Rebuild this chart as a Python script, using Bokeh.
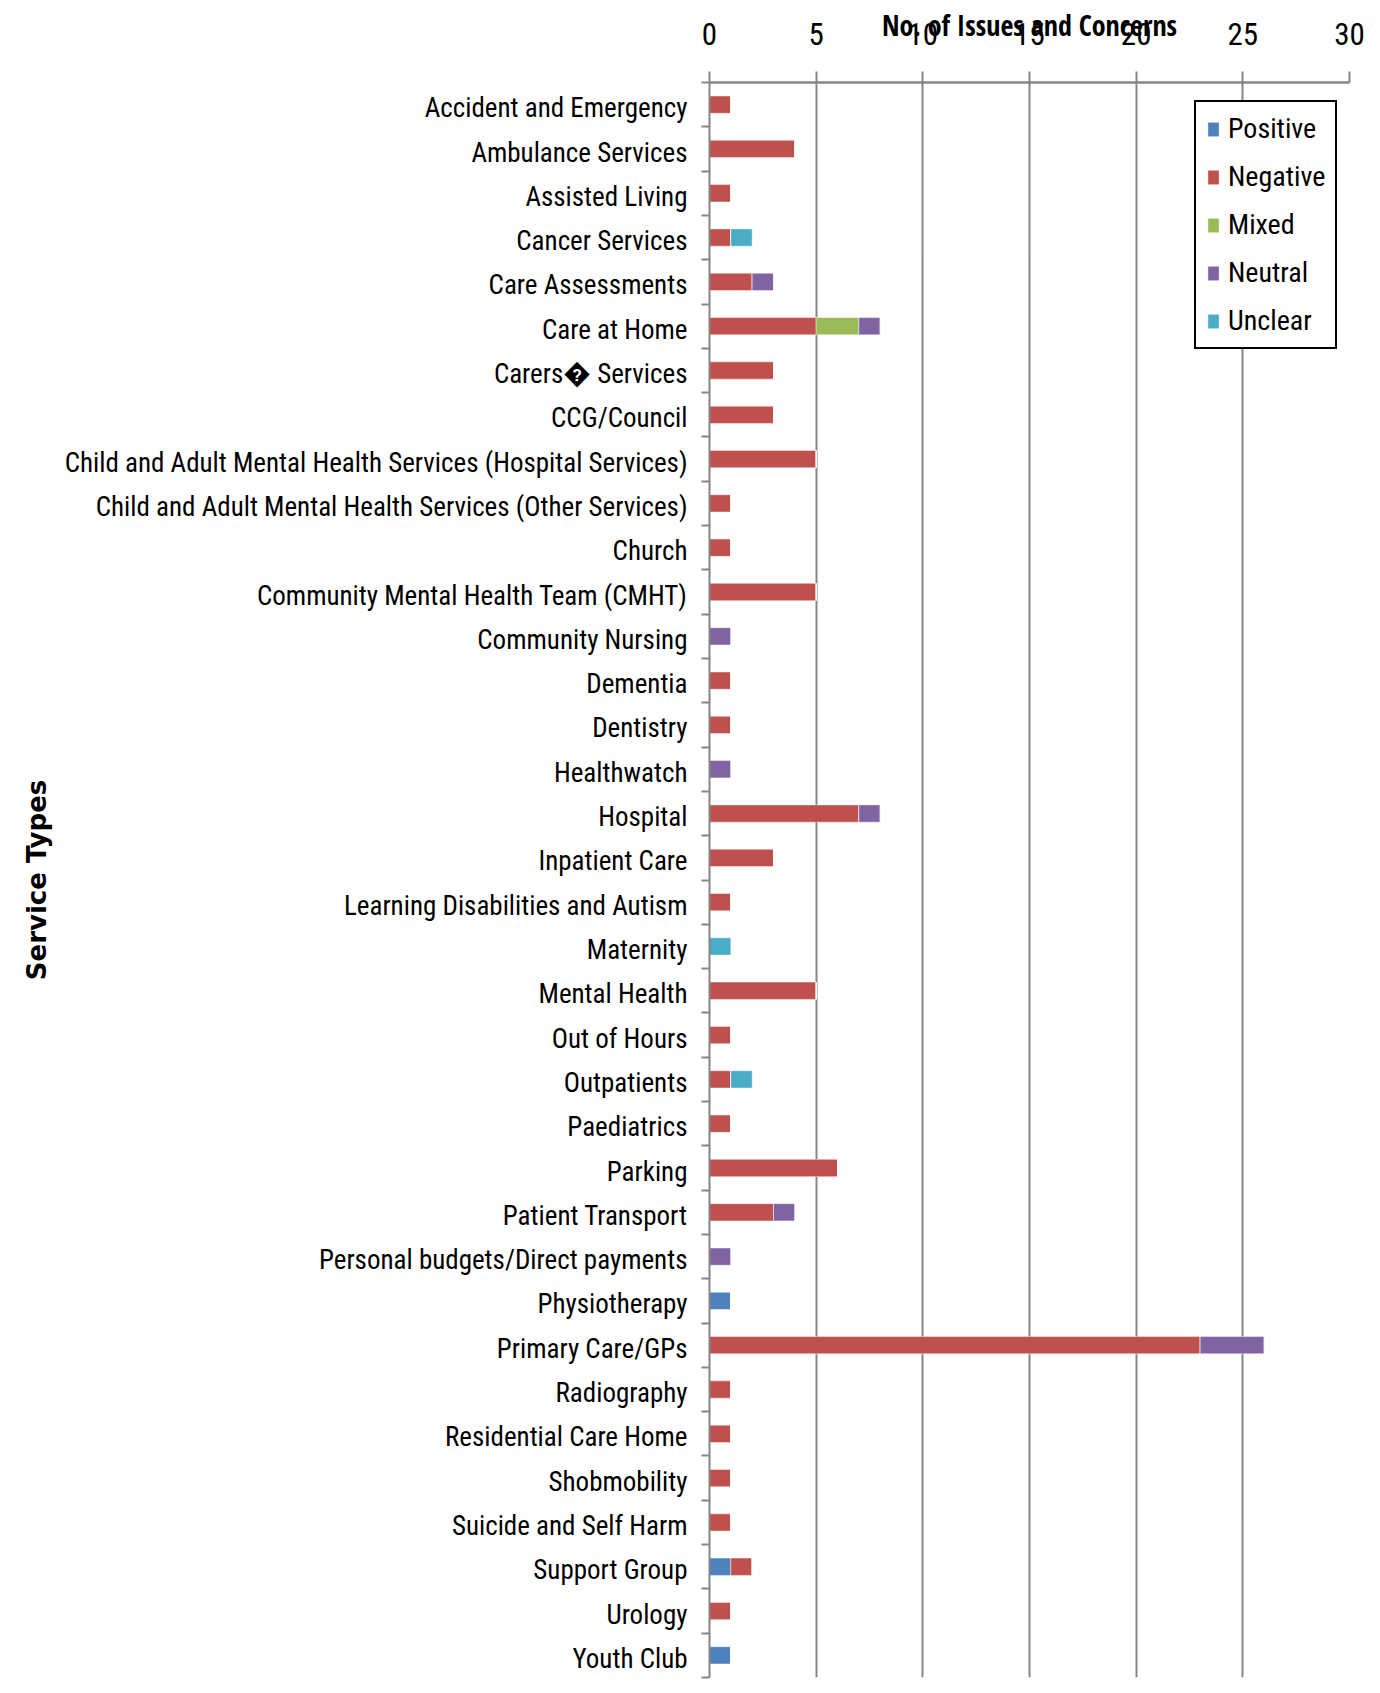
from bokeh.plotting import figure
from bokeh.models import ColumnDataSource, FixedTicker, Range1d
from bokeh.embed import file_html
from bokeh.resources import INLINE

# Service types, listed top to bottom
services = [
    "Accident and Emergency",
    "Ambulance Services",
    "Assisted Living",
    "Cancer Services",
    "Care Assessments",
    "Care at Home",
    "Carers\ufffd Services",
    "CCG/Council",
    "Child and Adult Mental Health Services (Hospital Services)",
    "Child and Adult Mental Health Services (Other Services)",
    "Church",
    "Community Mental Health Team (CMHT)",
    "Community Nursing",
    "Dementia",
    "Dentistry",
    "Healthwatch",
    "Hospital",
    "Inpatient Care",
    "Learning Disabilities and Autism",
    "Maternity",
    "Mental Health",
    "Out of Hours",
    "Outpatients",
    "Paediatrics",
    "Parking",
    "Patient Transport",
    "Personal budgets/Direct payments",
    "Physiotherapy",
    "Primary Care/GPs",
    "Radiography",
    "Residential Care Home",
    "Shobmobility",
    "Suicide and Self Harm",
    "Support Group",
    "Urology",
    "Youth Club",
]

# Number of issues and concerns per sentiment
positive = [0, 0, 0, 0, 0, 0, 0, 0, 0, 0, 0, 0, 0, 0, 0, 0, 0, 0,
            0, 0, 0, 0, 0, 0, 0, 0, 0, 1, 0, 0, 0, 0, 0, 1, 0, 1]
negative = [1, 4, 1, 1, 2, 5, 3, 3, 5, 1, 1, 5, 0, 1, 1, 0, 7, 3,
            1, 0, 5, 1, 1, 1, 6, 3, 0, 0, 23, 1, 1, 1, 1, 1, 1, 0]
mixed    = [0, 0, 0, 0, 0, 2, 0, 0, 0, 0, 0, 0, 0, 0, 0, 0, 0, 0,
            0, 0, 0, 0, 0, 0, 0, 0, 0, 0, 0, 0, 0, 0, 0, 0, 0, 0]
neutral  = [0, 0, 0, 0, 1, 1, 0, 0, 0, 0, 0, 0, 1, 0, 0, 1, 1, 0,
            0, 0, 0, 0, 0, 0, 0, 1, 1, 0, 3, 0, 0, 0, 0, 0, 0, 0]
unclear  = [0, 0, 0, 1, 0, 0, 0, 0, 0, 0, 0, 0, 0, 0, 0, 0, 0, 0,
            0, 1, 0, 0, 1, 0, 0, 0, 0, 0, 0, 0, 0, 0, 0, 0, 0, 0]

x_ticks = [0, 5, 10, 15, 20, 25, 30]

sentiments = ["Positive", "Negative", "Mixed", "Neutral", "Unclear"]
colors = ["#4F81BD", "#C0504D", "#9BBB59", "#8064A2", "#4BACC6"]

FONT = "Roboto Condensed"
GREY = "#868686"

n = len(services)
centers = [i + 0.5 for i in range(n)]
# category names sit a touch below the middle of each band
label_pos = [round(i + 0.58, 2) for i in range(n)]

source = ColumnDataSource(dict(
    y=centers,
    Positive=positive,
    Negative=negative,
    Mixed=mixed,
    Neutral=neutral,
    Unclear=unclear,
))

p = figure(
    width=1380, height=1693,
    x_range=Range1d(0, 30),
    y_range=Range1d(n, 0),
    x_axis_location="above",
    output_backend="svg",
    toolbar_location=None,
    min_border_left=709, min_border_right=31,
    min_border_top=82, min_border_bottom=16,
)
p.outline_line_color = None
p.background_fill_color = "white"
p.border_fill_color = "white"

p.hbar_stack(
    sentiments, y="y", height=0.39, source=source, color=colors,
    line_color="white", line_alpha=0.45, line_width=1,
    legend_label=sentiments,
)

# value axis along the top
xa = p.xaxis[0]
xa.ticker = FixedTicker(ticks=x_ticks)
xa.axis_line_color = GREY
xa.axis_line_width = 2.5
xa.major_tick_line_color = GREY
xa.major_tick_line_width = 2
xa.major_tick_out = 11
xa.major_tick_in = 0
xa.minor_tick_line_color = None
xa.major_label_text_font = FONT
xa.major_label_text_font_size = "31px"
xa.major_label_text_color = "black"
xa.major_label_standoff = 27
xa.axis_label = "No. of Issues and Concerns"
xa.axis_label_text_font = "Open Sans Condensed"
xa.axis_label_text_font_style = "bold"
xa.axis_label_text_font_size = "28px"
xa.axis_label_text_color = "black"
xa.axis_label_standoff = -24

# category axis: names near band centres, tick marks at band edges
ya = p.yaxis[0]
ya.ticker = FixedTicker(ticks=label_pos, minor_ticks=list(range(n + 1)))
ya.major_label_overrides = {c: s for c, s in zip(label_pos, services)}
ya.major_tick_line_color = None
ya.minor_tick_line_color = GREY
ya.minor_tick_line_width = 2
ya.minor_tick_out = 8
ya.minor_tick_in = 0
ya.axis_line_color = GREY
ya.axis_line_width = 2
ya.major_label_text_font = FONT
ya.major_label_text_font_size = "27px"
ya.major_label_text_color = "black"
ya.major_label_standoff = 14
ya.axis_label = "Service Types"
ya.axis_label_text_font = "DejaVu Sans"
ya.axis_label_text_font_style = "bold"
ya.axis_label_text_font_size = "26px"
ya.axis_label_text_color = "black"
ya.axis_label_standoff = 10

p.xgrid.grid_line_color = GREY
p.xgrid.grid_line_width = 2
p.xgrid.ticker = FixedTicker(ticks=x_ticks)
p.ygrid.grid_line_color = None

leg = p.legend[0]
leg.location = (485, 1328)
leg.border_line_color = "black"
leg.border_line_width = 2.5
leg.border_line_alpha = 1
leg.background_fill_color = "white"
leg.background_fill_alpha = 1
leg.label_text_font = FONT
leg.label_text_font_size = "28px"
leg.label_text_color = "black"
leg.glyph_width = 14
leg.glyph_height = 18
leg.label_height = 30
leg.spacing = 15
leg.padding = 10
leg.label_standoff = 8
leg.margin = 0

open("out.html", "w").write(file_html(p, INLINE))
